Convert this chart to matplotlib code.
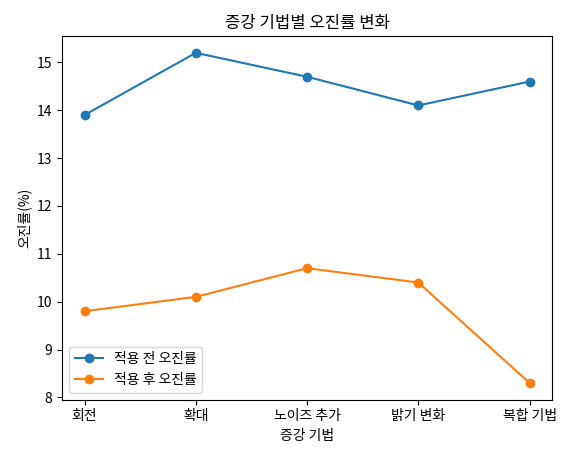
import matplotlib
matplotlib.use('Agg')
import matplotlib.pyplot as plt
plt.rcParams['font.family'] = ['Noto Sans CJK KR', 'DejaVu Sans']

categories = ['회전', '확대', '노이즈 추가', '밝기 변화', '복합 기법']
before = [13.9, 15.2, 14.7, 14.1, 14.6]
after = [9.8, 10.1, 10.7, 10.4, 8.3]

fig, ax = plt.subplots(figsize=(5.66, 4.54), dpi=100)
ax.plot(categories, before, marker='o', label='적용 전 오진률')
ax.plot(categories, after, marker='o', label='적용 후 오진률')
ax.set_title('증강 기법별 오진률 변화')
ax.set_xlabel('증강 기법')
ax.set_ylabel('오진률(%)')
ax.legend(loc='lower left')
fig.subplots_adjust(left=0.11, right=0.975, top=0.92, bottom=0.12)
fig.savefig('out.png')
